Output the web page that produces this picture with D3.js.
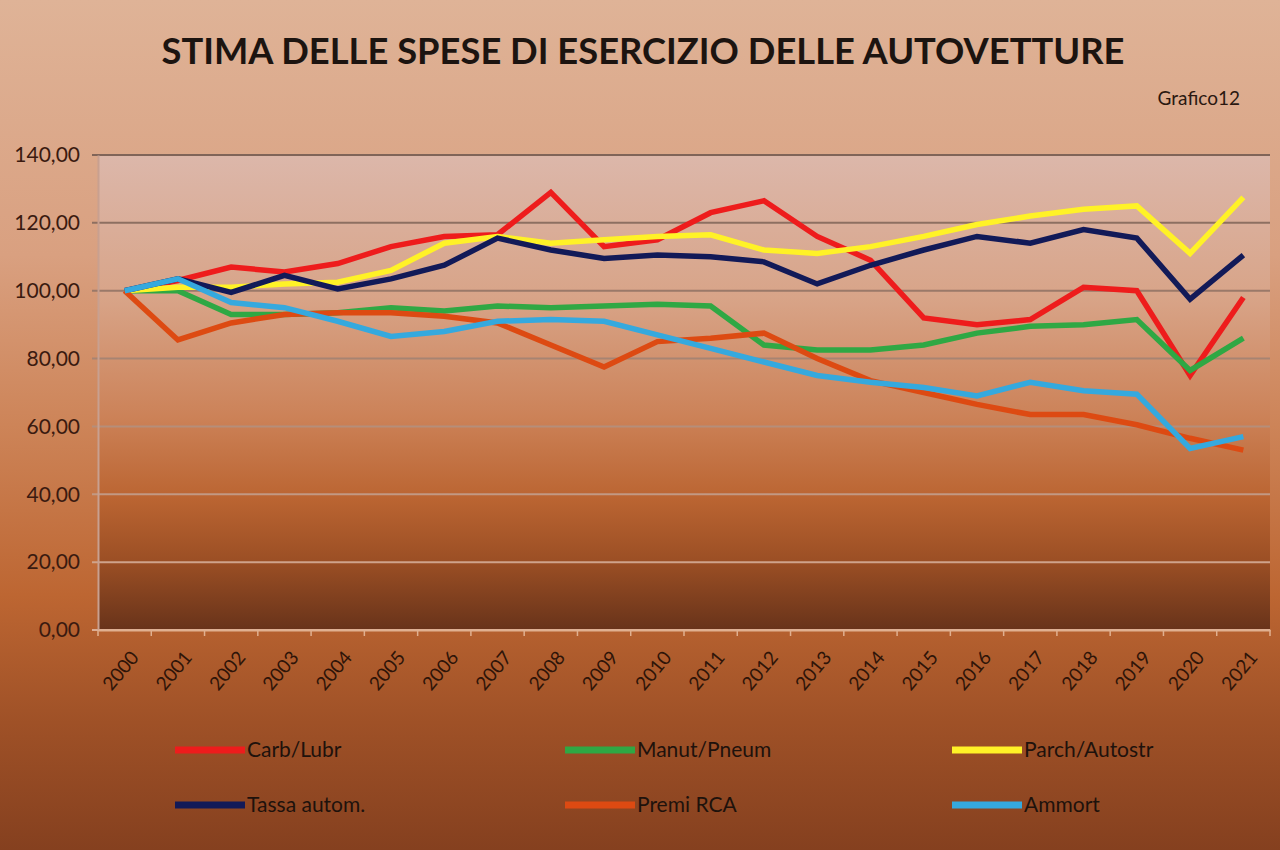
<!DOCTYPE html>
<html>
<head>
<meta charset="utf-8">
<script src="https://cdn.jsdelivr.net/npm/d3@7"></script>
<style>
  html, body { margin: 0; padding: 0; background: #c98a64; }
  svg { display: block; }
</style>
</head>
<body>
<div id="chart"></div>
<script>
const years = ["2000","2001","2002","2003","2004","2005","2006","2007","2008","2009","2010","2011","2012","2013","2014","2015","2016","2017","2018","2019","2020","2021"];
const carbLubr   = [100, 103, 107, 105.5, 108, 113, 116, 116.5, 129, 113, 115, 123, 126.5, 116, 109, 92, 90, 91.5, 101, 100, 75, 98];
const manutPneum = [100, 100, 93, 93, 93.5, 95, 94, 95.5, 95, 95.5, 96, 95.5, 84, 82.5, 82.5, 84, 87.5, 89.5, 90, 91.5, 76.5, 86];
const parchAuto  = [100, 101, 101, 102, 102.5, 106, 114, 116, 114, 115, 116, 116.5, 112, 111, 113, 116, 119.5, 122, 124, 125, 111, 127.5];
const tassaAutom = [100, 103.5, 99.5, 104.5, 100.5, 103.5, 107.5, 115.5, 112, 109.5, 110.5, 110, 108.5, 102, 107.5, 112, 116, 114, 118, 115.5, 97.5, 110.5];
const premiRCA   = [100, 85.5, 90.5, 93, 93.5, 93.5, 92.5, 90.5, 84, 77.5, 85, 86, 87.5, 80, 73.5, 70, 66.5, 63.5, 63.5, 60.5, 56.5, 53];
const ammort     = [100, 103.5, 96.5, 95, 91, 86.5, 88, 91, 91.5, 91, 87, 83, 79, 75, 73, 71.5, 69, 73, 70.5, 69.5, 53.5, 57];
const seriesNames = ["Carb/Lubr", "Manut/Pneum", "Parch/Autostr", "Tassa autom.", "Premi RCA", "Ammort"];
const seriesValues = [carbLubr, manutPneum, parchAuto, tassaAutom, premiRCA, ammort];
const yTicks = [0, 20, 40, 60, 80, 100, 120, 140];
const titleText = "STIMA DELLE SPESE DI ESERCIZIO DELLE AUTOVETTURE";
const subTitle = "Grafico12";

const colors = ["#ee1c1c", "#2fa844", "#fff227", "#121a58", "#dd4a12", "#35a9de"];

const W = 1280, H = 850;
const m = {left: 98, right: 1270, top: 155, bottom: 630};
const FONT = "Lato, 'Open Sans', sans-serif";

const svg = d3.select("#chart").append("svg").attr("width", W).attr("height", H);
const defs = svg.append("defs");

const bg = defs.append("linearGradient").attr("id", "bg").attr("x1", 0).attr("y1", 0).attr("x2", 0).attr("y2", 1);
[[0, "#dfb397"], [0.3, "#d9a080"], [0.5, "#cd8458"], [0.7, "#bd6632"], [0.85, "#9f5127"], [1, "#85401f"]]
  .forEach(([o, c]) => bg.append("stop").attr("offset", o).attr("stop-color", c));

const pg = defs.append("linearGradient").attr("id", "pg").attr("x1", 0).attr("y1", 0).attr("x2", 0).attr("y2", 1);
[[0, "#dcb7aa"], [0.3, "#d8a488"], [0.55, "#cc8258"], [0.72, "#bb6532"], [0.86, "#9a4e24"], [1, "#68331a"]]
  .forEach(([o, c]) => pg.append("stop").attr("offset", o).attr("stop-color", c));

svg.append("rect").attr("width", W).attr("height", H).attr("fill", "url(#bg)");

const x = d3.scaleBand().domain(years).range([m.left, m.right]);
const y = d3.scaleLinear().domain([0, 140]).range([m.bottom, m.top]);

svg.append("rect")
  .attr("x", m.left).attr("y", m.top)
  .attr("width", m.right - m.left).attr("height", m.bottom - m.top)
  .attr("fill", "url(#pg)");

// gridlines
const gridCol = d3.scaleLinear().domain([140, 0]).range(["#806458", "#dcae94"]);
svg.append("g").selectAll("line").data(yTicks).join("line")
  .attr("x1", m.left - 6).attr("x2", m.right)
  .attr("y1", d => y(d)).attr("y2", d => y(d))
  .attr("stroke", d => gridCol(d)).attr("stroke-width", 2);

// axes
const yAxis = svg.append("g").attr("transform", `translate(${m.left},0)`)
  .call(d3.axisLeft(y).tickValues(yTicks).tickSize(0).tickPadding(18)
    .tickFormat(d => d3.format(".2f")(d).replace(".", ",")));
yAxis.select(".domain").attr("stroke", "#c8a090").attr("stroke-width", 2);
yAxis.selectAll("text").attr("font-family", FONT)
  .attr("font-size", 21).attr("fill", "#3a1a10");

const xAxis = svg.append("g").attr("transform", `translate(0,${m.bottom})`)
  .call(d3.axisBottom(x).tickSize(0));
xAxis.select(".domain").attr("stroke", "#e0b090").attr("stroke-width", 2);
xAxis.selectAll("text")
  .attr("font-family", FONT).attr("font-size", 19)
  .attr("fill", "#2e1408").attr("text-anchor", "end")
  .attr("transform", "translate(13,26) rotate(-50)").attr("dy", 0);
// category tick marks
svg.append("g").selectAll("line").data(years.concat(["end"])).join("line")
  .attr("x1", (d, i) => m.left + i * x.step()).attr("x2", (d, i) => m.left + i * x.step())
  .attr("y1", m.bottom).attr("y2", m.bottom + 6)
  .attr("stroke", "#e0b090").attr("stroke-width", 1.5);

// lines
const line = d3.line().x((d, i) => x(years[i]) + x.bandwidth() / 2).y(d => y(d));
svg.append("g").selectAll("path").data(seriesValues).join("path")
  .attr("d", d => line(d))
  .attr("fill", "none")
  .attr("stroke", (d, i) => colors[i])
  .attr("stroke-width", 5.5)
  .attr("stroke-linejoin", "miter");

// title
svg.append("text").attr("x", 643).attr("y", 64).attr("text-anchor", "middle")
  .attr("font-family", FONT).attr("font-weight", "bold")
  .attr("font-size", 37).attr("textLength", 963).attr("lengthAdjust", "spacingAndGlyphs")
  .attr("fill", "#1c1410").text(titleText);
svg.append("text").attr("x", 1240).attr("y", 105).attr("text-anchor", "end")
  .attr("font-family", FONT)
  .attr("font-size", 19).attr("fill", "#2a1810").text(subTitle);

// legend
const legX = [175, 565, 952];
const legY = [750, 805];
const leg = svg.append("g").selectAll("g").data(seriesNames).join("g")
  .attr("transform", (d, i) => `translate(${legX[i % 3]},${legY[Math.floor(i / 3)]})`);
leg.append("line").attr("x1", 0).attr("x2", 70).attr("y1", 0).attr("y2", 0)
  .attr("stroke", (d, i) => colors[i]).attr("stroke-width", 7);
leg.append("text").attr("x", 72).attr("y", 0).attr("dy", "0.35em")
  .attr("font-family", FONT).attr("font-size", 21)
  .attr("fill", "#1e120c").text(d => d);
</script>
</body>
</html>
